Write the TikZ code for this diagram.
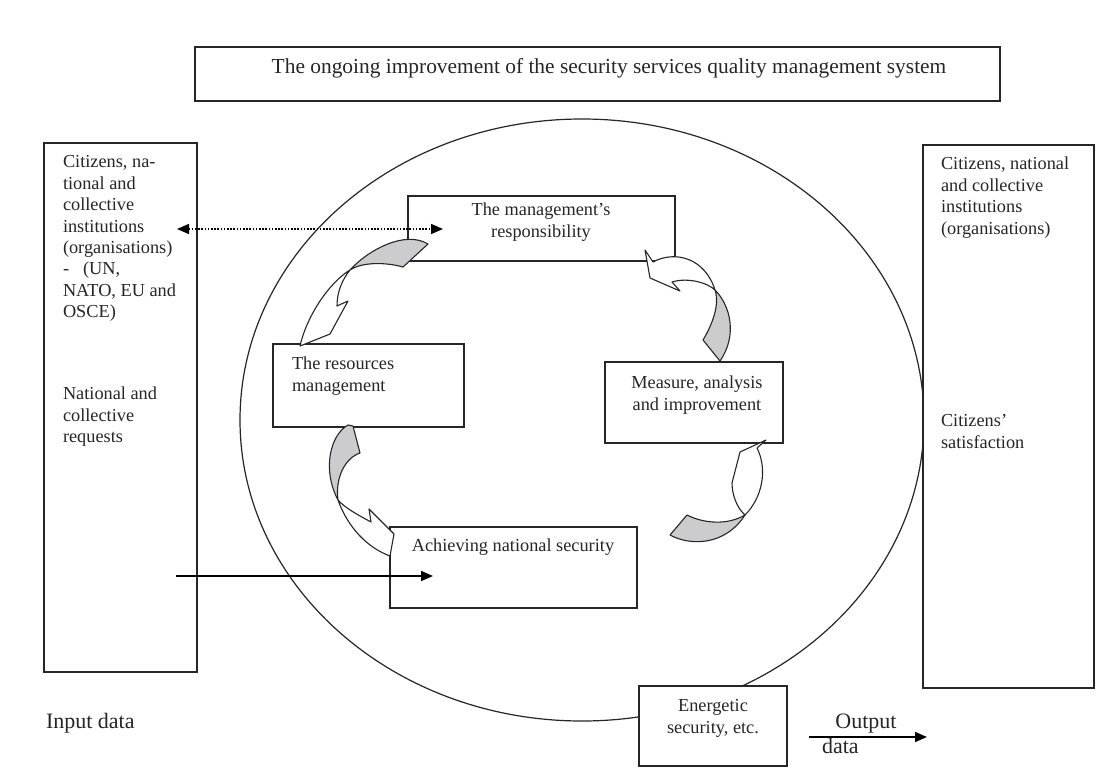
\documentclass[tikz,border=0pt]{standalone}
\usepackage{fontspec}
\setmainfont{Liberation Serif}
\usetikzlibrary{arrows.meta,shapes.geometric}
\definecolor{bandgrey}{RGB}{204,204,206}
\newcommand{\fsN}{\fontsize{18.3}{21.4}\selectfont}
\newcommand{\fsT}{\fontsize{21.4}{25}\selectfont}
\newcommand{\fsL}{\fontsize{22}{26}\selectfont}
\begin{document}
\begin{tikzpicture}[x=1pt,y=-1pt,line width=1.2pt,
  box/.style={draw=black!85,fill=white,inner sep=0pt,outer sep=0pt,anchor=north west},
  txt/.style={inner sep=0pt,outer sep=0pt,font=\fsN,text=black!85},
  txtl/.style={txt,align=left,anchor=north west},
  txtc/.style={txt,align=center,anchor=north},
  back/.style={fill=bandgrey,draw=black!85,line width=1.1pt,line join=round},
  front/.style={fill=white,draw=black!85,line width=1.1pt,line join=round},
  tri/.style={-{Triangle[length=12pt,width=10pt]}},
  tritwo/.style={{Triangle[length=12pt,width=10pt]}-{Triangle[length=12pt,width=10pt]}}]
\useasboundingbox[fill=white] (0,0) rectangle (1108,769);

% ellipse
\node[draw=black!85,ellipse,inner sep=0pt,minimum width=684pt,minimum height=602pt] (ell) at (582,420) {};

% boxes
\node[box,minimum width=805pt,minimum height=54pt] (title) at (195,47) {};
\node[box,minimum width=153pt,minimum height=529pt] (left) at (44,143) {};
\node[box,minimum width=171pt,minimum height=543pt] (right) at (923,145) {};
\node[box,minimum width=267pt,minimum height=65pt] (mgmt) at (408,196) {};
\node[box,minimum width=191pt,minimum height=83pt] (res) at (273,344) {};
\node[box,minimum width=178pt,minimum height=81pt] (meas) at (605,362) {};
\node[box,minimum width=247pt,minimum height=81pt] (ach) at (390,527) {};
\node[box,minimum width=148pt,minimum height=80pt] (energ) at (639,686) {};

% curved arrows
% 1: responsibility -> resources
\coordinate (x1) at (350,270);
\draw[back] (x1) .. controls (368,250) and (405,230) .. (428,244) -- (403,267)
  .. controls (385,262) and (362,262) .. (x1) -- cycle;
\draw[front] (x1) .. controls (330,282) and (307,315) .. (300,346) -- (330,334)
  -- (348,301) -- (337,306) .. controls (337,292) and (342,280) .. (x1) -- cycle;
% 2: resources -> achieving
\coordinate (x2) at (338,500);
\draw[back] (348,425) -- (353,426) -- (360,453) .. controls (345,458) and (335,478) .. (x2)
  .. controls (322,470) and (330,435) .. (348,425) -- cycle;
\draw[front] (x2) .. controls (348,528) and (368,548) .. (390,556) -- (394,534)
  -- (369,509) -- (371,522) .. controls (358,515) and (345,508) .. (x2) -- cycle;
% 3: measure -> responsibility
\coordinate (x3) at (715,290);
\draw[back] (x3) .. controls (730,305) and (738,335) .. (720,361) -- (703,340)
  .. controls (712,325) and (720,305) .. (x3) -- cycle;
\draw[front] (645,250) -- (653,262) .. controls (675,250) and (705,258) .. (x3)
  .. controls (708,283) and (688,277) .. (672,282) -- (680,291) -- (650,278) -- cycle;
% 4: achieving -> measure
\coordinate (x4) at (745,515);
\draw[back] (687,515) .. controls (705,524) and (728,525) .. (x4)
  .. controls (725,546) and (690,546) .. (670,535) -- cycle;
\draw[front] (x4) .. controls (762,498) and (768,470) .. (757,448) -- (766,440)
  -- (740,452) -- (732,483) .. controls (732,495) and (737,508) .. (x4) -- cycle;

% straight connectors
\coordinate (dotL) at (177,229);
\coordinate (dotR) at (443,229);
\draw[tritwo,line width=1.5pt,dash pattern=on 1.6pt off 1.6pt] (dotL) -- (dotR);
\coordinate (inS) at (176,576);
\coordinate (inE) at (433,576);
\draw[tri,line width=1.5pt] (inS) -- (inE);
\coordinate (outS) at (809,737);
\coordinate (outE) at (927,737);
\draw[tri,line width=1.5pt] (outS) -- (outE);

% texts
\node[txtc,font=\fsT] (titleT) at (609,56) {\strut The ongoing improvement of the security services quality management system};
\node[txtl] (leftA) at (63,153) {\strut Citizens, na-\\tional and\\collective\\institutions\\(organisations)\\-\hspace{14pt}(UN,\\NATO, EU and\\OSCE)};
\node[txtl] (leftB) at (63,385) {\strut National and\\collective\\requests};
\node[txtl] (rightA) at (941,155) {\strut Citizens, national\\and collective\\institutions\\(organisations)};
\node[txtl] (rightB) at (941,412) {\strut Citizens’\\satisfaction};
\node[txtc] (mgmtT) at (541,201) {\strut The management’s\\responsibility};
\node[txtl] (resT) at (292,355) {\strut The resources\\management};
\node[txtc] (measT) at (697,374) {\strut Measure, analysis\\and improvement};
\node[txtc] (achT) at (513,537) {\strut Achieving national security};
\node[txtc] (energT) at (713,697) {\strut Energetic\\security, etc.};
\node[txtc,font=\fsL] (outT) at (866,709.8) {\strut Output};
\node[txtl,font=\fsL] (dataT) at (822,734.8) {\strut data};
\node[txtl,font=\fsL] (inT) at (46,709.8) {\strut Input data};
\end{tikzpicture}
\end{document}
